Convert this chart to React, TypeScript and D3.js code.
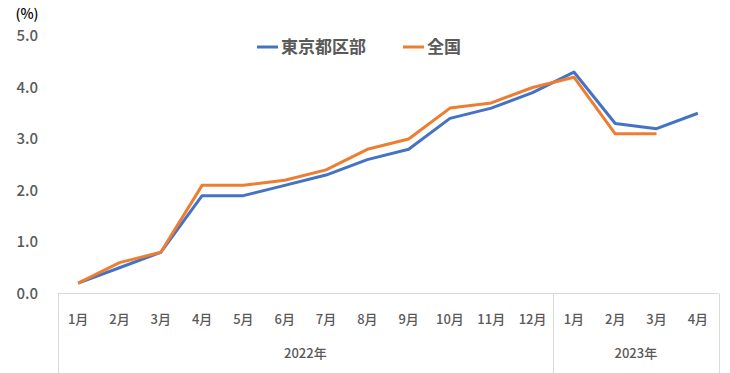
import { useEffect, useRef } from 'react';
import * as d3 from 'd3';

const months = ['1月', '2月', '3月', '4月', '5月', '6月', '7月', '8月', '9月', '10月', '11月', '12月', '1月', '2月', '3月', '4月'];
const years = ['2022年', '2023年'];
const yearSpans = [12, 4];
const tokyo = [0.2, 0.5, 0.8, 1.9, 1.9, 2.1, 2.3, 2.6, 2.8, 3.4, 3.6, 3.9, 4.3, 3.3, 3.2, 3.5];
const national: (number | null)[] = [0.2, 0.6, 0.8, 2.1, 2.1, 2.2, 2.4, 2.8, 3.0, 3.6, 3.7, 4.0, 4.2, 3.1, 3.1, null];
const yTicks = [0, 1, 2, 3, 4, 5];
const seriesNames = ['東京都区部', '全国'];
const colors = ['#4472C4', '#ED7D31'];

const FONT = '"Noto Sans CJK JP", "Noto Sans", sans-serif';

export default function App() {
  const svgRef = useRef<SVGSVGElement>(null);

  useEffect(() => {
    if (!svgRef.current) return;
    const svg = d3.select(svgRef.current);
    svg.selectAll('*').remove();

    const left = 57.5;
    const right = 718.5;
    const axisY = 293.5;

    const x = d3
      .scaleBand<number>()
      .domain(d3.range(months.length))
      .range([left, right]);
    const y = d3.scaleLinear().domain([0, 5]).range([293.5, 36]);

    // y tick labels
    svg
      .append('g')
      .selectAll('text')
      .data(yTicks)
      .join('text')
      .attr('x', 38)
      .attr('y', (d) => y(d))
      .attr('dy', '0.35em')
      .attr('text-anchor', 'end')
      .attr('fill', '#595959')
      .attr('font-size', 15)
      .attr('font-weight', 500)
      .attr('font-family', FONT)
      .text((d) => d.toFixed(1));

    svg
      .append('text')
      .attr('x', 27)
      .attr('y', 14)
      .attr('dy', '0.35em')
      .attr('text-anchor', 'middle')
      .attr('fill', '#000')
      .attr('font-size', 14)
      .attr('font-weight', 500)
      .attr('font-family', FONT)
      .text('(%)');

    // category axis box
    const axis = svg.append('g').attr('stroke', '#D9D9D9').attr('stroke-width', 1);
    axis.append('line').attr('x1', left).attr('x2', right).attr('y1', axisY).attr('y2', axisY);
    let acc = 0;
    const dividers = [0];
    yearSpans.forEach((s) => {
      acc += s;
      dividers.push(acc);
    });
    dividers.forEach((i) => {
      const xx = i === months.length ? right : x(i)!;
      axis
        .append('line')
        .attr('x1', Math.round(xx) + 0.5)
        .attr('x2', Math.round(xx) + 0.5)
        .attr('y1', axisY)
        .attr('y2', 373);
    });

    svg
      .append('g')
      .selectAll('text')
      .data(months)
      .join('text')
      .attr('x', (_, i) => x(i)! + x.bandwidth() / 2)
      .attr('y', 319)
      .attr('dy', '0.35em')
      .attr('text-anchor', 'middle')
      .attr('fill', '#595959')
      .attr('font-size', 13)
      .attr('font-weight', 500)
      .attr('font-family', FONT)
      .text((d) => d);

    svg
      .append('g')
      .selectAll('text')
      .data(years)
      .join('text')
      .attr('x', (_, i) => {
        const a = dividers[i];
        const b = dividers[i + 1];
        const x0 = x(a)!;
        const x1 = b === months.length ? right : x(b)!;
        return (x0 + x1) / 2;
      })
      .attr('y', 353)
      .attr('dy', '0.35em')
      .attr('text-anchor', 'middle')
      .attr('fill', '#595959')
      .attr('font-size', 13)
      .attr('font-weight', 500)
      .attr('font-family', FONT)
      .text((d) => d);

    // lines
    const line = d3
      .line<number | null>()
      .defined((d) => d !== null)
      .x((_, i) => x(i)! + x.bandwidth() / 2)
      .y((d) => y(d as number));

    [tokyo, national].forEach((data, k) => {
      svg
        .append('path')
        .datum(data as (number | null)[])
        .attr('fill', 'none')
        .attr('stroke', colors[k])
        .attr('stroke-width', 3)
        .attr('stroke-linejoin', 'round')
        .attr('d', line);
    });

    // legend
    const legendX = [257, 403];
    seriesNames.forEach((name, k) => {
      const g = svg.append('g').attr('transform', `translate(${legendX[k]},47)`);
      g.append('line')
        .attr('x1', 0)
        .attr('x2', 21)
        .attr('stroke', colors[k])
        .attr('stroke-width', 3);
      g.append('text')
        .attr('x', 24)
        .attr('dy', '0.35em')
        .attr('fill', '#595959')
        .attr('font-size', 17)
        .attr('font-weight', 'bold')
        .attr('font-family', FONT)
        .text(name);
    });
  }, []);

  return (
    <div style={{ position: 'absolute', left: 0, top: 0 }}>
      <svg ref={svgRef} width={730} height={373} style={{ display: 'block' }} />
    </div>
  );
}
